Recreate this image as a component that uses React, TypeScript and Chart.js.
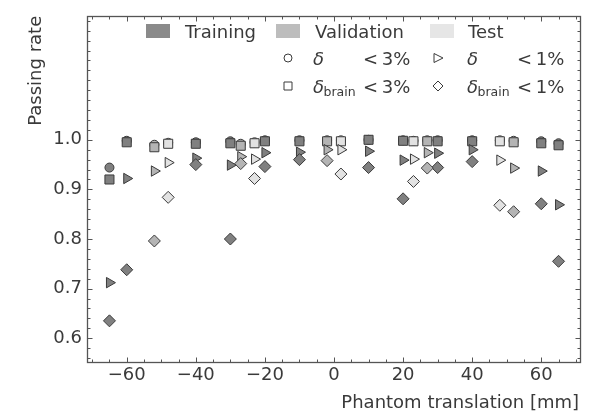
import React, { useEffect, useRef } from 'react';
import { Chart, registerables } from 'chart.js';

Chart.register(...registerables);

// ---------------- data ----------------
const splitNames = ['Training', 'Validation', 'Test'];

const trainX = [-65, -60, -40, -30, -20, -10, 10, 20, 30, 40, 60, 65];
const trainDelta3 = [0.944, 0.998, 0.995, 0.997, 0.999, 0.999, 1.0, 0.999, 0.999, 0.999, 0.997, 0.993];
const trainBrain3 = [0.92, 0.995, 0.992, 0.993, 0.997, 0.997, 1.0, 0.998, 0.997, 0.997, 0.993, 0.989];
const trainDelta1 = [0.712, 0.922, 0.963, 0.949, 0.974, 0.975, 0.977, 0.959, 0.973, 0.98, 0.937, 0.869];
const trainBrain1 = [0.635, 0.738, 0.95, 0.8, 0.946, 0.96, 0.944, 0.881, 0.944, 0.956, 0.871, 0.755];

const valX = [-52, -27, -2, 27, 52];
const valDelta3 = [0.99, 0.992, 0.999, 0.999, 0.998];
const valBrain3 = [0.985, 0.988, 0.997, 0.997, 0.995];
const valDelta1 = [0.937, 0.966, 0.98, 0.974, 0.943];
const valBrain1 = [0.796, 0.952, 0.958, 0.943, 0.855];

const testX = [-48, -23, 2, 23, 48];
const testDelta3 = [0.994, 0.995, 0.999, 0.998, 0.999];
const testBrain3 = [0.992, 0.993, 0.997, 0.997, 0.997];
const testDelta1 = [0.954, 0.961, 0.98, 0.961, 0.959];
const testBrain1 = [0.884, 0.922, 0.931, 0.916, 0.868];

const xTicks = [-60, -40, -20, 0, 20, 40, 60];
const yTicks = [0.6, 0.7, 0.8, 0.9, 1.0];
const xMin = -71.5;
const xMax = 71.5;
const yMin = 0.55;
const yMax = 1.25;

// ---------------- styles ----------------
const FONT = 'DejaVu Sans';
const TEXT = '#3a3a3a';
const FRAME = '#555555';
const EDGE = '#3a3a3a';
const markerFill = ['#808080', '#b4b4b4', '#e2e2e2'];
const patchFill = ['#8a8a8a', '#bdbdbd', '#e6e6e6'];

type Metric = { style: string; rotation: number; radius: number };
const metricStyles: Metric[] = [
  { style: 'circle', rotation: 0, radius: 4.5 },
  { style: 'rect', rotation: 0, radius: 6.4 },
  { style: 'triangle', rotation: 90, radius: 6 },
  { style: 'rectRot', rotation: 0, radius: 6 },
];

function buildDatasets() {
  const splits = [
    { x: trainX, series: [trainDelta3, trainBrain3, trainDelta1, trainBrain1] },
    { x: valX, series: [valDelta3, valBrain3, valDelta1, valBrain1] },
    { x: testX, series: [testDelta3, testBrain3, testDelta1, testBrain1] },
  ];
  const ds: any[] = [];
  const total = splits.length * 4;
  let k = 0;
  splits.forEach((sp, si) => {
    sp.series.forEach((vals, mi) => {
      const m = metricStyles[mi];
      ds.push({
        label: splitNames[si] + ' ' + mi,
        data: sp.x.map((x, i) => ({ x, y: vals[i] })),
        showLine: false,
        pointStyle: m.style,
        pointRotation: m.rotation,
        pointRadius: m.radius,
        pointHoverRadius: m.radius,
        pointBackgroundColor: markerFill[si],
        pointBorderColor: EDGE,
        pointBorderWidth: 1,
        order: total - k,
      });
      k++;
    });
  });
  return ds;
}

// ---------------- plugins ----------------
const framePlugin = {
  id: 'frameTicks',
  afterDatasetsDraw(chart: any) {
    const { ctx, chartArea } = chart;
    const xs = chart.scales.x;
    const ys = chart.scales.y;
    const L = Math.round(chartArea.left) + 0.5;
    const R = Math.round(chartArea.right) - 0.5;
    const T = Math.round(chartArea.top) + 0.5;
    const B = Math.round(chartArea.bottom) - 0.5;
    ctx.save();
    ctx.strokeStyle = FRAME;
    ctx.lineWidth = 1;
    ctx.beginPath();
    // x ticks
    for (let v = -70; v <= 70; v += 5) {
      const major = xTicks.includes(v);
      const len = major ? 5 : 3;
      const p = Math.round(xs.getPixelForValue(v)) + 0.5;
      ctx.moveTo(p, B);
      ctx.lineTo(p, B - len);
      ctx.moveTo(p, T);
      ctx.lineTo(p, T + len);
    }
    // y ticks
    for (let i = 28; i <= 62; i++) {
      const v = i / 50;
      if (v < yMin - 1e-9 || v > yMax + 1e-9) continue;
      const major = yTicks.some((t) => Math.abs(t - v) < 1e-6);
      const len = major ? 5 : 3;
      const p = Math.round(ys.getPixelForValue(v)) + 0.5;
      ctx.moveTo(L, p);
      ctx.lineTo(L + len, p);
      ctx.moveTo(R, p);
      ctx.lineTo(R - len, p);
    }
    ctx.stroke();
    ctx.lineWidth = 1.3;
    ctx.strokeRect(L, T, R - L, B - T);
    ctx.restore();
  },
};

function drawSymbol(ctx: CanvasRenderingContext2D, kind: number, x: number, y: number) {
  ctx.beginPath();
  if (kind === 0) {
    ctx.arc(x, y, 4, 0, Math.PI * 2);
  } else if (kind === 1) {
    ctx.rect(x - 4, y - 4, 8, 8);
  } else if (kind === 2) {
    ctx.moveTo(x + 5, y);
    ctx.lineTo(x - 4, y - 4.5);
    ctx.lineTo(x - 4, y + 4.5);
    ctx.closePath();
  } else {
    ctx.moveTo(x, y - 5);
    ctx.lineTo(x + 5, y);
    ctx.lineTo(x, y + 5);
    ctx.lineTo(x - 5, y);
    ctx.closePath();
  }
  ctx.fillStyle = '#ffffff';
  ctx.fill();
  ctx.strokeStyle = EDGE;
  ctx.lineWidth = 1;
  ctx.stroke();
}

const legendPlugin = {
  id: 'customLegend',
  afterDraw(chart: any) {
    const ctx: CanvasRenderingContext2D = chart.ctx;
    ctx.save();
    // split patches
    const patchX = [146, 276, 430];
    const labelX = [185, 315, 468];
    splitNames.forEach((name, i) => {
      ctx.fillStyle = patchFill[i];
      ctx.fillRect(patchX[i], 24, 24, 14);
      ctx.fillStyle = TEXT;
      ctx.font = `18px "${FONT}"`;
      ctx.textAlign = 'left';
      ctx.textBaseline = 'alphabetic';
      ctx.fillText(name, labelX[i], 37.5);
    });
    // metric entries (2 x 2)
    const cols = [
      { sym: 288, delta: 313, rel: 363 },
      { sym: 438, delta: 467, rel: 517 },
    ];
    const rows = [
      { y: 58, base: 64.5 },
      { y: 86, base: 92.5 },
    ];
    const entries = [
      { kind: 0, row: 0, col: 0, brain: false, pct: '3%' },
      { kind: 2, row: 0, col: 1, brain: false, pct: '1%' },
      { kind: 1, row: 1, col: 0, brain: true, pct: '3%' },
      { kind: 3, row: 1, col: 1, brain: true, pct: '1%' },
    ];
    entries.forEach((e) => {
      const c = cols[e.col];
      const r = rows[e.row];
      drawSymbol(ctx, e.kind, c.sym, r.y);
      ctx.fillStyle = TEXT;
      ctx.textAlign = 'left';
      ctx.textBaseline = 'alphabetic';
      ctx.font = `italic 18px "${FONT}"`;
      ctx.fillText('δ', c.delta, r.base);
      if (e.brain) {
        ctx.font = `12.5px "${FONT}"`;
        ctx.fillText('brain', c.delta + 10.5, r.base + 3.5);
      }
      ctx.font = `18px "${FONT}"`;
      ctx.fillText('<\u2009' + e.pct, c.rel, r.base);
    });
    // axis titles
    ctx.fillStyle = TEXT;
    ctx.font = `18px "${FONT}"`;
    ctx.textAlign = 'right';
    ctx.textBaseline = 'alphabetic';
    ctx.fillText('Phantom translation [mm]', chart.chartArea.right - 2, 408);
    ctx.save();
    ctx.translate(41, chart.chartArea.top);
    ctx.rotate(-Math.PI / 2);
    ctx.fillText('Passing rate', 0, 0);
    ctx.restore();
    ctx.restore();
  },
};

export default function App() {
  const ref = useRef<HTMLCanvasElement | null>(null);
  useEffect(() => {
    document.body.style.margin = '0';
    const canvas = ref.current;
    if (!canvas) return;
    Chart.defaults.font.family = FONT;
    const chart = new Chart(canvas, {
      type: 'scatter',
      data: { datasets: buildDatasets() },
      options: {
        animation: false,
        responsive: false,
        devicePixelRatio: 1,
        layout: { padding: { top: 6, right: 8, left: 0, bottom: 0 } },
        plugins: {
          legend: { display: false },
          tooltip: { enabled: false },
        },
        scales: {
          x: {
            type: 'linear',
            min: xMin,
            max: xMax,
            grid: { display: false, drawTicks: false },
            border: { display: false },
            afterBuildTicks: (scale: any) => {
              scale.ticks = xTicks.map((v) => ({ value: v }));
            },
            afterFit: (scale: any) => {
              scale.height = 51;
            },
            ticks: {
              autoSkip: false,
              maxRotation: 0,
              padding: 2,
              color: TEXT,
              font: { size: 18, family: FONT },
              callback: (v: any) => (Number(v) < 0 ? '\u2212' + Math.abs(Number(v)) : String(v)),
            },
          },
          y: {
            type: 'linear',
            min: yMin,
            max: yMax,
            grid: { display: false, drawTicks: false },
            border: { display: false },
            afterBuildTicks: (scale: any) => {
              scale.ticks = yTicks.map((v) => ({ value: v }));
            },
            afterFit: (scale: any) => {
              scale.width = 87;
            },
            ticks: {
              autoSkip: false,
              padding: 5,
              color: TEXT,
              font: { size: 18, family: FONT },
              callback: (v: any) => Number(v).toFixed(1),
            },
          },
        },
      },
      plugins: [framePlugin, legendPlugin],
    });
    return () => chart.destroy();
  }, []);
  return <canvas ref={ref} width={589} height={414} style={{ display: 'block' }} />;
}
